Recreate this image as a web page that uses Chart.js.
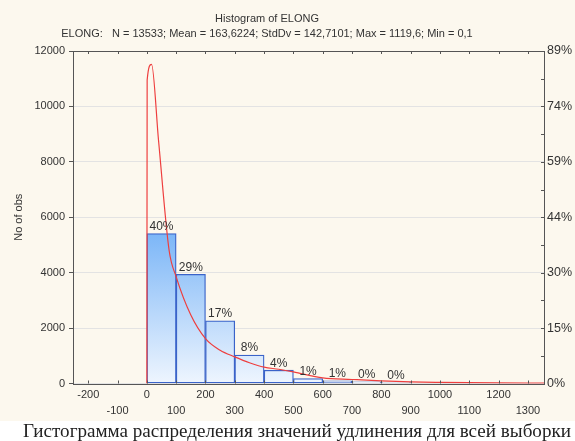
<!DOCTYPE html>
<html>
<head>
<meta charset="utf-8">
<script src="https://cdn.jsdelivr.net/npm/chart.js@4.4.1/dist/chart.umd.min.js"></script>
<style>
  html, body { margin: 0; padding: 0; background: #ffffff; }
  #wrap { position: relative; width: 575px; height: 441px; overflow: hidden; }
  #bg { position: absolute; left: 0; top: 0; width: 575px; height: 421px; background: #fcf8ee; }
  #c { position: absolute; left: 0; top: 0; }
  .t { position: absolute; font-family: "Liberation Sans", Arial, sans-serif; font-size: 11px; color: #333; white-space: nowrap; transform: translateX(-50%); }
  #cap { position: absolute; left: 23px; top: 420px; font-family: "Liberation Serif", "Times New Roman", serif; font-size: 19.1px; color: #222; white-space: nowrap; }
</style>
</head>
<body>
<div id="wrap">
  <div id="bg"></div>
  <canvas id="c" width="575" height="441"></canvas>
  <div class="t" style="left:267px; top:12px;">Histogram of ELONG</div>
  <div class="t" style="left:267px; top:27px;">ELONG:&nbsp;&nbsp; N = 13533; Mean = 163,6224; StdDv = 142,7101; Max = 1119,6; Min = 0,1</div>
  <div id="cap">Гистограмма распределения значений удлинения для всей выборки</div>
</div>
<script>
// ---- data ----
const N = 13533;
const binStarts = [0, 100, 200, 300, 400, 500, 600, 700, 800];
const binWidth = 100;
const binCounts = [5413, 3940, 2260, 1030, 480, 180, 95, 58, 36];
const curveX = [0, 1, 16, 40, 76, 100, 150, 200, 250, 300, 350, 400, 450, 500, 600, 700, 800, 900, 1000, 1100, 1200, 1300, 1355];
const curveY = [0, 10950, 11520, 8750, 4800, 3850, 2470, 1620, 1200, 960, 750, 590, 515, 420, 200, 145, 95, 60, 42, 30, 22, 16, 14];
const xTickValues = [-200, -100, 0, 100, 200, 300, 400, 500, 600, 700, 800, 900, 1000, 1100, 1200, 1300];
const yTickValues = [0, 2000, 4000, 6000, 8000, 10000, 12000];

const barData = binStarts.map((s, i) => ({ x: s + binWidth / 2, y: binCounts[i] }));
const lineData = curveX.map((x, i) => ({ x: x, y: curveY[i] }));

const ctx = document.getElementById('c').getContext('2d');

function barGradient(context) {
  const chart = context.chart;
  const area = chart.chartArea;
  if (!area) return '#a8cdf7';
  const ys = chart.scales.y;
  const g = chart.ctx.createLinearGradient(0, ys.getPixelForValue(5600), 0, ys.getPixelForValue(0));
  g.addColorStop(0, 'rgb(120,180,247)');
  g.addColorStop(1, 'rgb(238,245,254)');
  return g;
}

const framePlugin = {
  id: 'frame',
  afterDatasetsDraw(chart) {
    const c = chart.ctx, a = chart.chartArea, xs = chart.scales.x, ys = chart.scales.y;
    c.save();
    // bar percentage labels
    const meta = chart.getDatasetMeta(0);
    c.font = '12px "Liberation Sans", Arial, sans-serif';
    c.fillStyle = '#333';
    c.textAlign = 'center';
    c.textBaseline = 'bottom';
    meta.data.forEach((bar, i) => {
      const pct = Math.round(binCounts[i] / N * 100) + '%';
      c.fillText(pct, bar.x, bar.y - 1);
    });
    // frame
    c.strokeStyle = '#555';
    c.lineWidth = 1;
    c.strokeRect(Math.round(a.left) + 0.5, Math.round(a.top) + 0.5, Math.round(a.right - a.left), Math.round(a.bottom - a.top));
    // inward ticks top & bottom
    c.beginPath();
    xTickValues.forEach(v => {
      const px = Math.round(xs.getPixelForValue(v)) + 0.5;
      c.moveTo(px, a.top); c.lineTo(px, a.top + 3);
      c.moveTo(px, a.bottom); c.lineTo(px, a.bottom - 3);
    });
    // inward minor ticks on right
    for (let v = 1000; v < 12000; v += 1000) {
      const py = Math.round(ys.getPixelForValue(v)) + 0.5;
      c.moveTo(a.right, py); c.lineTo(a.right - 3, py);
    }
    c.stroke();
    c.restore();
  }
};

new Chart(ctx, {
  data: {
    datasets: [
      {
        type: 'bar',
        data: barData,
        backgroundColor: barGradient,
        borderColor: '#3a63c9',
        borderWidth: 1.3,
        borderSkipped: false,
        barPercentage: 1,
        categoryPercentage: 1,
        order: 2
      },
      {
        type: 'line',
        data: lineData,
        borderColor: 'rgb(238,62,62)',
        borderWidth: 1.2,
        pointRadius: 0,
        fill: false,
        cubicInterpolationMode: 'monotone',
        order: 1
      }
    ]
  },
  options: {
    responsive: false,
    animation: false,
    layout: { padding: { top: 51, left: 0, right: 0, bottom: 0 } },
    plugins: { legend: { display: false }, tooltip: { enabled: false } },
    scales: {
      x: {
        type: 'linear',
        offset: false,
        min: -252,
        max: 1355,
        afterBuildTicks: s => { s.ticks = xTickValues.map(v => ({ value: v })); },
        afterFit: s => { s.height = 57.5; },
        grid: { display: false, drawTicks: false },
        border: { display: false },
        ticks: {
          autoSkip: false,
          maxRotation: 0,
          padding: 3,
          color: '#333',
          font: { family: '"Liberation Sans", Arial, sans-serif', size: 11, lineHeight: 1.5 },
          callback: v => (v % 200 === 0 ? String(v) : ['', String(v)])
        }
      },
      y: {
        position: 'left',
        min: 0,
        max: 12000,
        afterBuildTicks: s => { s.ticks = yTickValues.map(v => ({ value: v })); },
        afterFit: s => { s.width = 73; },
        grid: { color: '#e3e3e3', tickColor: '#555', tickLength: 4, drawTicks: true },
        border: { display: false },
        title: {
          display: true,
          text: 'No of obs',
          color: '#333',
          font: { family: '"Liberation Sans", Arial, sans-serif', size: 11 },
          padding: { top: 12, bottom: 0 }
        },
        ticks: {
          padding: 4,
          color: '#333',
          font: { family: '"Liberation Sans", Arial, sans-serif', size: 11 },
          callback: v => String(v)
        }
      },
      y2: {
        position: 'right',
        min: 0,
        max: 12000,
        afterBuildTicks: s => { s.ticks = yTickValues.map(v => ({ value: v })); },
        afterFit: s => { s.width = 31; },
        grid: { drawOnChartArea: false, drawTicks: false },
        border: { display: false },
        ticks: {
          padding: 3,
          color: '#333',
          font: { family: '"Liberation Sans", Arial, sans-serif', size: 12.5 },
          callback: v => Math.round(v / N * 100) + '%'
        }
      }
    }
  },
  plugins: [framePlugin]
});
</script>
</body>
</html>
